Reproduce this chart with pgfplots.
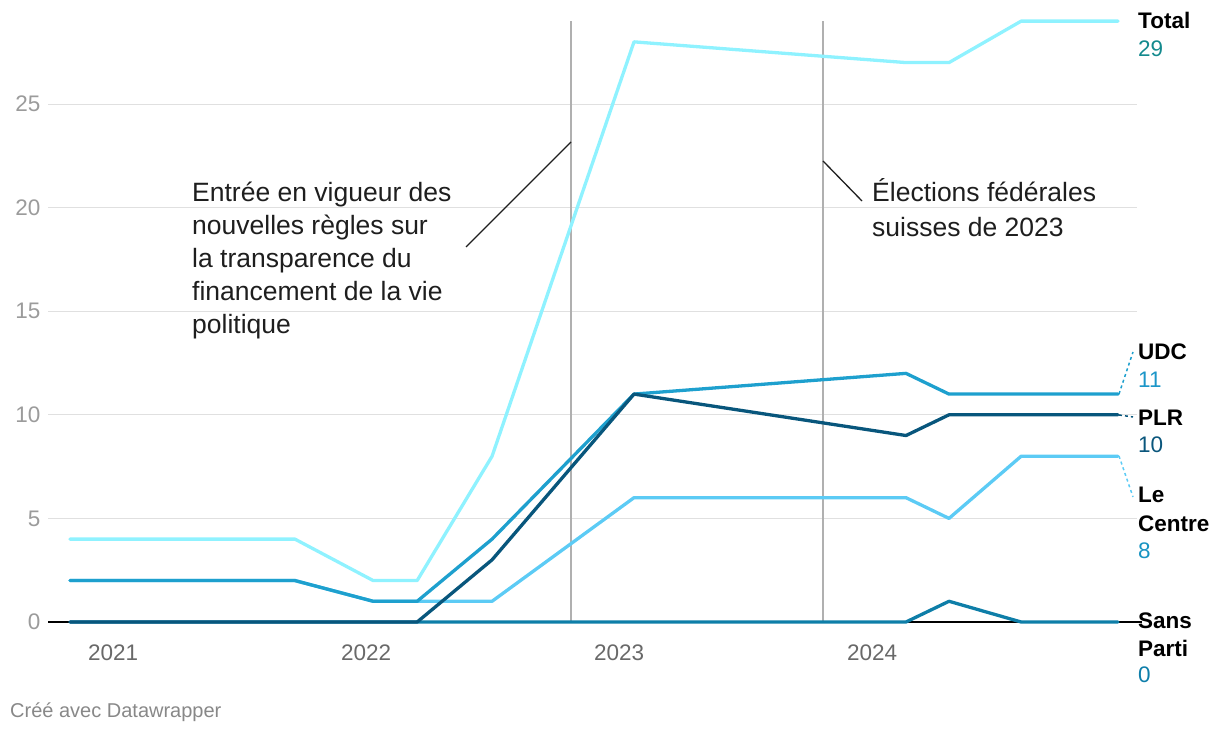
\documentclass[border=0pt]{standalone}
\usepackage{pgfplots}
\pgfplotsset{compat=1.18}
\usepackage{fontspec}
\setmainfont{Liberation Sans}
\definecolor{cTotal}{RGB}{143,242,255}
\definecolor{cUDC}{RGB}{30,160,206}
\definecolor{cPLR}{RGB}{8,86,124}
\definecolor{cCentre}{RGB}{92,203,245}
\definecolor{cSans}{RGB}{14,126,168}
\definecolor{vTotal}{RGB}{20,138,142}
\definecolor{vUDC}{RGB}{28,150,200}
\definecolor{vPLR}{RGB}{10,86,124}
\definecolor{vCentre}{RGB}{25,148,194}
\definecolor{vSans}{RGB}{14,126,170}
\definecolor{gridc}{RGB}{224,224,224}
\definecolor{ytc}{RGB}{155,155,155}
\definecolor{xtc}{RGB}{105,105,105}
\definecolor{vline}{RGB}{176,176,176}
\definecolor{foot}{RGB}{136,136,136}
\definecolor{annc}{RGB}{30,30,30}

\pgfplotstableread{
x        total udc plr centre sans
2020.830 4     2   0   2      0
2021.719 4     2   0   2      0
2022.028 2     1   0   1      0
2022.202 2     1   0   1      0
2022.498 8     4   3   1      0
2023.059 28    11  11  6      0
2024.134 27    12  9   6      0
2024.304 27    11  10  5      1
2024.589 29    11  10  8      0
2024.972 29    11  10  8      0
}\datatable

\newcommand\ann{\fontsize{26.5}{30}\selectfont}
\newcommand\lab{\fontsize{22.5}{26}\selectfont}

\begin{document}
\begin{tikzpicture}[x=1pt,y=1pt]
\useasboundingbox (0,0) rectangle (1220,738);
\begin{axis}[
  at={(48pt,116pt)}, anchor=south west,
  scale only axis, width=1089pt, height=611.2pt,
  xmin=2020.743, xmax=2025.047, ymin=0, ymax=29.5,
  axis line style={draw=none},
  ytick={0,5,10,15,20,25},
  xtick={2021,2022,2023,2024},
  xticklabels={2021,2022,2023,2024},
  major tick length=0pt,
  ymajorgrids, grid style={color=gridc, line width=1pt},
  clip=false,
  /pgf/number format/assume math mode=true,
  ticklabel style={font=\fontsize{22.5}{22.5}\selectfont},
  yticklabel style={color=ytc, anchor=east, xshift=-4pt},
  xticklabel style={color=xtc, anchor=base, yshift=-39pt},
  every axis plot/.append style={line width=3.3pt, line join=round, line cap=round},
]
\draw[black, line width=1.8pt] (axis cs:2020.743,0) -- (axis cs:2025.066,0);
\draw[vline, line width=1.5pt] (axis cs:2022.810,0) -- (axis cs:2022.810,29);
\draw[vline, line width=1.5pt] (axis cs:2023.806,0) -- (axis cs:2023.806,29);
\addplot[cTotal] table[x=x,y=total]{\datatable};
\addplot[cSans] table[x=x,y=sans]{\datatable};
\addplot[cCentre] table[x=x,y=centre]{\datatable};
\addplot[cUDC] table[x=x,y=udc]{\datatable};
\addplot[cPLR] table[x=x,y=plr]{\datatable};
\end{axis}
% annotation connectors
\draw[annc, line width=1.3pt] (571,596) -- (466,491);
\draw[annc, line width=1.3pt] (823,577) -- (862,537);
% annotation texts
\begin{scope}[every node/.style={anchor=base west, inner sep=0pt, text=annc, font=\ann}]
\node at (192,536) {Entrée en vigueur des};
\node at (192,503) {nouvelles règles sur};
\node at (192,470) {la transparence du};
\node at (192,437) {financement de la vie};
\node at (192,404) {politique};
\node at (872,536) {Élections fédérales};
\node at (872,501) {suisses de 2023};
\end{scope}
% dotted connectors to labels
\draw[cUDC, line width=1.5pt, dash pattern=on 3pt off 3pt] (1119,344) -- (1133,386);
\draw[cPLR, line width=1.5pt, dash pattern=on 3pt off 3pt] (1119,323) -- (1133,321);
\draw[cCentre, line width=1.5pt, dash pattern=on 3pt off 3pt] (1119,282) -- (1133,241);
% right labels
\begin{scope}[every node/.style={anchor=base west, inner sep=0pt, font=\lab}]
\node[font=\lab\bfseries] at (1138,709) {Total};
\node[text=vTotal] at (1138,681) {29};
\node[font=\lab\bfseries] at (1138,378) {UDC};
\node[text=vUDC] at (1138,350) {11};
\node[font=\lab\bfseries] at (1138,312) {PLR};
\node[text=vPLR] at (1138,285) {10};
\node[font=\lab\bfseries] at (1138,235) {Le};
\node[font=\lab\bfseries] at (1138,206) {Centre};
\node[text=vCentre] at (1138,179) {8};
\node[font=\lab\bfseries] at (1138,109) {Sans};
\node[font=\lab\bfseries] at (1138,81) {Parti};
\node[text=vSans] at (1138,55) {0};
\end{scope}
\node[anchor=base west, inner sep=0pt, text=foot, font=\fontsize{20}{22}\selectfont] at (10,20) {Créé avec Datawrapper};
\end{tikzpicture}
\end{document}
